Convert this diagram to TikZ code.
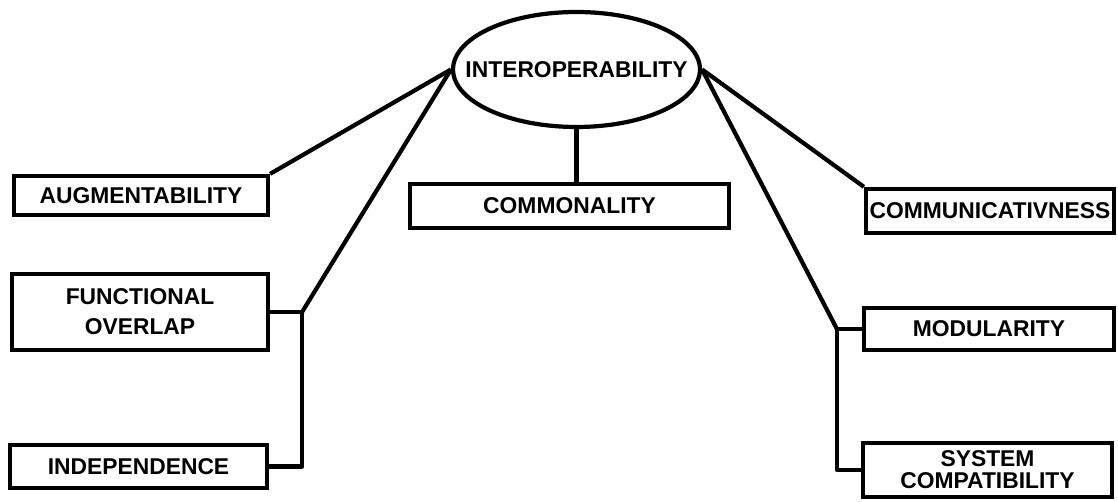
\documentclass[tikz,border=0pt]{standalone}
\usepackage{fontspec}
\setmainfont{Liberation Sans}
\usepackage{tikz}
\usetikzlibrary{shapes.geometric, positioning, calc}

\begin{document}
\begin{tikzpicture}[x=0.02cm, y=-0.02cm,
    attr/.style={draw, line width=2.4pt, align=center, inner sep=1pt, font=\fontsize{13}{17}\selectfont\bfseries},
    attrbox/.style={attr, rectangle},
    link/.style={line width=2.4pt, line join=round}]
    \useasboundingbox (0,0) rectangle (1118,502);

    % Top level attribute
    \node[attr, ellipse, inner sep=0.05cm, minimum width=4.94cm, minimum height=2.30cm] (interop) at (576.5, 69.5) {\makebox[3.39cm]{INTEROPERABILITY}};

    % Sub attributes, left side
    \node[attrbox, minimum width=5.08cm, minimum height=0.78cm] (augment) at (141, 195.5) {AUGMENTABILITY};
    \node[attrbox, minimum width=5.12cm, minimum height=1.52cm] (funcov) at (140, 312) {FUNCTIONAL\\OVERLAP};
    \node[attrbox, minimum width=5.14cm, minimum height=0.86cm] (indep) at (138.5, 466.5) {INDEPENDENCE};

    % Sub attributes, middle and right side
    \node[attrbox, minimum width=6.38cm, minimum height=0.88cm] (common) at (569.5, 206) {COMMONALITY};
    \node[attrbox, minimum width=4.96cm, minimum height=0.88cm] (communic) at (990, 211) {COMMUNICATIVNESS};
    \node[attrbox, minimum width=5.00cm, minimum height=0.84cm] (modul) at (989, 329) {MODULARITY};
    \node[attrbox, minimum width=4.98cm, minimum height=1.08cm, font=\fontsize{13}{12.5}\selectfont\bfseries] (syscomp) at (987.5, 470) {SYSTEM\\COMPATIBILITY};

    % Bracket corners
    \coordinate (lj) at ($(funcov.east)+(32,0)$);
    \coordinate (rj) at ($(modul.west)+(-25,0)$);

    % Connectors
    \draw[link] (interop.west) -- (augment.north east);
    \draw[link] (interop.west) -- (lj);
    \draw[link] (funcov.east) -- (lj) -- (lj |- indep.east) -- (indep.east);
    \draw[link] (interop.south) -- (interop.south |- common.north);
    \draw[link] (interop.east) -- (communic.north west);
    \draw[link] (interop.east) -- (rj);
    \draw[link] (modul.west) -- (rj) -- (rj |- syscomp.west) -- (syscomp.west);
\end{tikzpicture}
\end{document}
